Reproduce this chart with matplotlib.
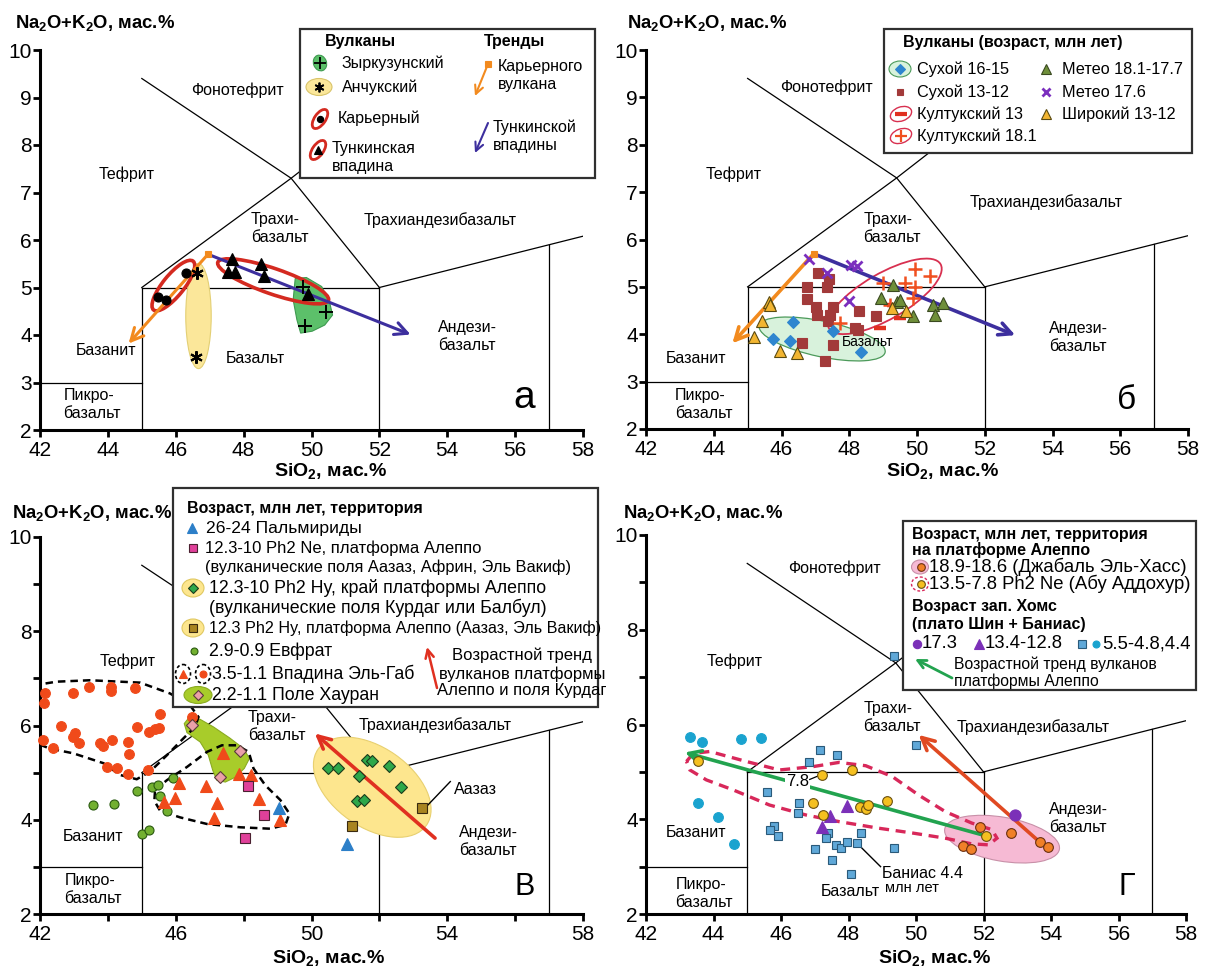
import matplotlib

matplotlib.use("Agg")
import matplotlib.pyplot as plt
from matplotlib.patches import Ellipse, Polygon, Rectangle
from matplotlib.transforms import Affine2D
from matplotlib.ticker import MultipleLocator, FixedLocator

plt.rcParams["font.family"] = ["Liberation Sans", "DejaVu Sans"]
plt.rcParams["mathtext.fontset"] = "custom"
plt.rcParams["mathtext.rm"] = "Liberation Sans"
plt.rcParams["mathtext.bf"] = "Liberation Sans:bold"

W, H = 1205, 969

# TAS field boundaries (SiO2, Na2O+K2O)
TAS_LINES = [
    ([42, 45], [3, 3]),
    ([45, 45], [2, 5]),
    ([45, 52], [5, 5]),
    ([52, 52], [2, 5]),
    ([57, 57], [2, 5.9]),
    ([52, 57, 58], [5, 5.9, 6.08]),
    ([45, 49.4, 53], [5, 7.3, 9.3]),
    ([45, 49.4, 52], [9.4, 7.3, 5]),
]

# ---- panel a ----
A_ZYRK_X = [49.74, 50.42, 49.80]
A_ZYRK_Y = [5.02, 4.49, 4.18]
A_ANCH_X = [46.64, 46.59]
A_ANCH_Y = [5.31, 3.54]
A_KAR_X = [45.49, 45.72, 46.30]
A_KAR_Y = [4.79, 4.74, 5.30]
A_TUNK_X = [47.66, 47.54, 47.74, 48.50, 48.61, 49.91]
A_TUNK_Y = [5.61, 5.33, 5.33, 5.49, 5.24, 4.86]
A_ZYRK_BLOB = [(49.52, 5.19), (49.85, 5.21), (50.30, 5.02), (50.53, 4.70), (50.62, 4.42),
               (50.39, 4.21), (50.02, 4.08), (49.68, 4.04), (49.57, 4.32), (49.46, 4.74)]
TREND_START = (46.95, 5.70)
A_ORANGE_END = (44.61, 3.82)
A_BLUE_END = (52.92, 4.01)

# ---- panel b ----
B_SUH1_X = [46.33, 45.75, 46.25, 47.53, 48.35]
B_SUH1_Y = [4.25, 3.89, 3.86, 4.07, 3.63]
B_SUH2_X = [47.09, 47.41, 46.76, 47.33, 46.76, 47.02, 47.53, 47.06, 47.43, 47.38, 48.30,
            48.79, 48.17, 48.27, 46.60, 47.53, 47.28]
B_SUH2_Y = [5.30, 5.16, 5.00, 5.00, 4.74, 4.58, 4.57, 4.41, 4.41, 4.27, 4.49,
            4.39, 4.13, 4.09, 3.81, 3.77, 3.44]
B_KUL13_X = [49.50, 48.90, 49.30]
B_KUL13_Y = [4.35, 4.13, 4.62]
B_KUL18_X = [49.95, 50.38, 49.00, 49.65, 49.94, 49.89, 49.20, 47.74]
B_KUL18_Y = [5.37, 5.23, 5.09, 5.08, 5.00, 4.76, 4.62, 4.24]
B_MET1_X = [49.28, 48.94, 49.40, 49.50, 49.89, 50.48, 50.78, 50.53]
B_MET1_Y = [5.04, 4.77, 4.69, 4.72, 4.39, 4.62, 4.67, 4.41]
B_MET2_X = [46.82, 47.33, 48.05, 48.22, 48.00]
B_MET2_Y = [5.59, 5.30, 5.46, 5.45, 4.71]
B_SHIR_X = [45.63, 45.66, 45.41, 45.18, 45.97, 46.45, 49.25, 49.69]
B_SHIR_Y = [4.68, 4.62, 4.29, 3.95, 3.65, 3.60, 4.55, 4.50]
B_ORANGE_END = (44.55, 3.81)
B_BLUE_END = (52.90, 3.98)

# ---- panel v ----
V_PALM_X = [49.03, 51.06]
V_PALM_Y = [4.24, 3.48]
V_NE_X = [48.14, 48.61, 48.05]
V_NE_Y = [4.71, 4.10, 3.62]
V_KURD_X = [50.49, 50.77, 51.65, 51.79, 51.39, 52.29, 52.63, 51.34, 51.56]
V_KURD_Y = [5.09, 5.09, 5.27, 5.25, 4.93, 5.14, 4.70, 4.39, 4.41]
V_HY_X = [51.20, 53.27]
V_HY_Y = [3.86, 4.24]
V_EVF_X = [43.55, 44.18, 44.85, 45.29, 45.49, 45.91, 45.54, 45.74, 45.00, 45.22]
V_EVF_Y = [4.31, 4.33, 4.61, 4.69, 4.73, 4.88, 4.50, 4.19, 3.69, 3.79]
V_GABT_X = [47.39, 47.85, 48.22, 46.11, 46.89, 45.98, 45.66, 47.21, 48.45, 47.14, 49.08]
V_GABT_Y = [5.42, 4.97, 4.95, 4.77, 4.71, 4.47, 4.38, 4.36, 4.45, 4.04, 3.99]
V_GABC_X = [42.15, 42.12, 42.98, 43.45, 44.09, 44.09, 44.80, 45.54, 46.47, 42.61, 43.03,
            42.98, 43.16, 43.77, 43.85, 44.11, 44.58, 44.85, 45.22, 45.39, 45.52, 44.63,
            42.08, 42.37, 43.97, 44.28, 44.60, 45.18]
V_GABC_Y = [6.70, 6.47, 6.68, 6.81, 6.82, 6.74, 6.79, 6.24, 6.17, 5.99, 5.85,
            5.75, 5.63, 5.63, 5.57, 5.69, 5.64, 5.96, 5.87, 5.92, 5.94, 5.39,
            5.69, 5.53, 5.11, 5.09, 4.97, 5.05]
V_HAUR_X = [46.47, 47.90, 47.31]
V_HAUR_Y = [6.01, 5.46, 4.91]
V_GABC_OUTLINE = [(41.8, 6.85), (42.49, 6.93), (43.47, 6.96), (44.95, 6.91), (45.83, 6.68),
                  (46.42, 6.43), (46.67, 6.18), (46.57, 5.97), (46.23, 5.73), (45.74, 5.37),
                  (45.24, 5.02), (44.85, 4.86), (44.36, 4.95), (43.87, 5.20), (42.98, 5.41),
                  (42.29, 5.51), (41.8, 5.65)]
V_GABT_OUTLINE = [(45.39, 4.63), (45.74, 4.84), (46.33, 5.12), (46.92, 5.44), (47.36, 5.58),
                  (47.80, 5.58), (48.15, 5.44), (48.29, 5.09), (48.64, 4.73), (49.08, 4.42),
                  (49.35, 4.13), (49.23, 3.89), (48.78, 3.81), (47.90, 3.84), (46.92, 3.91),
                  (46.13, 4.05), (45.54, 4.19), (45.37, 4.40)]
V_HAUR_BLOB = [(46.25, 6.04), (46.37, 6.15), (46.72, 6.13), (47.11, 5.97), (47.60, 5.73),
               (48.00, 5.51), (48.17, 5.30), (48.02, 5.09), (47.75, 4.90), (47.46, 4.80),
               (47.21, 4.84), (47.09, 5.05), (46.96, 5.37), (46.72, 5.65), (46.33, 5.85)]
V_TREND = ((53.64, 3.61), (50.10, 5.83))

# ---- panel g ----
G_JAB_X = [51.90, 51.38, 51.64, 52.82, 53.68, 53.90]
G_JAB_Y = [3.83, 3.44, 3.37, 3.72, 3.51, 3.41]
G_ABU_X = [43.54, 47.21, 48.10, 46.94, 47.23, 48.33, 48.51, 48.59, 49.14, 52.07]
G_ABU_Y = [5.22, 4.94, 5.04, 4.35, 4.09, 4.26, 4.22, 4.30, 4.39, 3.65]
G_P17_X = [52.94]
G_P17_Y = [4.09]
G_P13_X = [47.97, 47.45, 47.21]
G_P13_Y = [4.27, 4.06, 3.83]
G_SQ_X = [49.34, 49.99, 47.15, 47.67, 46.82, 45.58, 46.54, 46.49, 45.78, 45.66, 45.90,
          47.40, 47.33, 48.37, 47.01, 47.63, 47.79, 47.95, 48.26, 47.51, 48.07, 49.35]
G_SQ_Y = [7.45, 5.57, 5.46, 5.36, 5.20, 4.58, 4.35, 4.13, 3.85, 3.78, 3.64,
          3.72, 3.60, 3.72, 3.37, 3.46, 3.39, 3.53, 3.50, 3.14, 2.85, 3.39]
G_CIR_X = [43.30, 43.67, 44.82, 45.41, 43.54, 44.13, 44.60]
G_CIR_Y = [5.74, 5.64, 5.69, 5.71, 4.35, 4.04, 3.48]
G_ABU_OUTLINE = [(43.20, 5.22), (43.40, 5.39), (43.89, 5.43), (44.97, 5.22), (45.95, 5.04),
                 (46.94, 5.11), (47.72, 5.20), (48.51, 5.13), (49.30, 4.90), (50.08, 4.51),
                 (50.87, 4.16), (51.65, 3.92), (52.25, 3.78), (52.40, 3.60), (52.15, 3.46),
                 (51.65, 3.48), (50.87, 3.60), (49.89, 3.71), (48.90, 3.81), (47.72, 3.95),
                 (46.74, 4.09), (45.66, 4.30), (44.58, 4.62), (43.79, 4.83), (43.30, 5.04)]
G_GREEN_TREND = ((52.07, 3.65), (43.15, 5.41))
G_RED_TREND = ((53.68, 3.51), (50.08, 5.78))

RED = "#d42a20"
ORANGE = "#f28a1e"
BLUE = "#3d2f9e"

fig = plt.figure(figsize=(W / 100, H / 100), dpi=100)


def make_axes(x0, x1, y0, y1):
    ax = fig.add_axes([x0 / W, 1 - y1 / H, (x1 - x0) / W, (y1 - y0) / H])
    ax.set_xlim(42, 58)
    ax.set_ylim(2, 10)
    for s in ("top", "right"):
        ax.spines[s].set_visible(False)
    for s in ("left", "bottom"):
        ax.spines[s].set_linewidth(2.2)
    ax.tick_params(which="both", direction="out", length=5, width=2, labelsize=15)
    ax.tick_params(axis="y", pad=1)
    ax.tick_params(axis="x", pad=3)
    for xs, ys in TAS_LINES:
        ax.plot(xs, ys, color="black", lw=0.9, zorder=1)
    return ax


def oval(ax, cx, cy, w, h, ang, **kw):
    bb = ax.get_position()
    k = (bb.height * H / 8) / (bb.width * W / 16)
    e = Ellipse((0, 0), w, h, angle=ang, **kw)
    e.set_transform(Affine2D().scale(1, 1 / k).translate(cx, cy) + ax.transData)
    ax.add_patch(e)


def arrow(ax, tail, head, color, lw=2.2, hl=0.9, hw=0.45):
    ax.annotate("", xy=head, xytext=tail,
                arrowprops=dict(arrowstyle=f"->,head_length={hl},head_width={hw}",
                                color=color, lw=lw, shrinkA=0, shrinkB=0), zorder=4)


def pts(ax, xs, ys, marker, fc, ec=None, ms=7, mew=0.8, z=5):
    ax.plot(xs, ys, ls="none", marker=marker, ms=ms, mfc=fc, mec=ec or fc,
            mew=mew, zorder=z, clip_on=False)


def field(ax, x, y, s, size=11.5, **kw):
    ax.text(x, y, s, fontsize=size, ha="center", va="center", multialignment="left",
            linespacing=1.25, zorder=3, **kw)


# ================= panel a =================
ax = make_axes(40, 583, 50, 430)
ax.xaxis.set_major_locator(MultipleLocator(2))
ax.yaxis.set_major_locator(MultipleLocator(1))
field(ax, 47.83, 9.16, "Фонотефрит")
field(ax, 44.56, 7.39, "Тефрит")
field(ax, 49.06, 6.25, "Трахи-\nбазальт")
field(ax, 53.8, 6.42, "Трахиандезибазальт")
field(ax, 54.6, 3.96, "Андези-\nбазальт")
field(ax, 43.94, 3.67, "Базанит")
field(ax, 48.33, 3.51, "Базальт")
field(ax, 43.54, 2.53, "Пикро-\nбазальт")
field(ax, 56.28, 2.68, "а", size=28)
ax.add_patch(Polygon(A_ZYRK_BLOB, closed=True, fc="#5cc06a", ec="#3e9a50", lw=0.8, zorder=2))
oval(ax, 46.67, 4.40, 0.75, 3.1, 0, fc="#fbe79a", ec="#e3cf74", lw=0.8, zorder=2)
oval(ax, 45.93, 5.04, 1.85, 0.62, 51, fc="none", ec=RED, lw=2.6, zorder=3)
oval(ax, 48.87, 5.13, 3.45, 0.75, -19, fc="none", ec=RED, lw=2.6, zorder=3)
arrow(ax, TREND_START, A_ORANGE_END, ORANGE)
arrow(ax, TREND_START, A_BLUE_END, BLUE)
pts(ax, [TREND_START[0]], [TREND_START[1]], "s", ORANGE, ms=5, z=6)
pts(ax, A_ZYRK_X, A_ZYRK_Y, "+", "black", ms=10, mew=1.4)
pts(ax, A_ANCH_X, A_ANCH_Y, (6, 2, 0), "black", ms=9, mew=1.5)
pts(ax, A_KAR_X, A_KAR_Y, "o", "black", ms=6.5)
pts(ax, A_TUNK_X, A_TUNK_Y, "^", "black", ms=8.5)

# ================= panel b =================
ax = make_axes(646, 1188, 50, 429)
ax.xaxis.set_major_locator(MultipleLocator(2))
ax.yaxis.set_major_locator(MultipleLocator(1))
field(ax, 47.33, 9.21, "Фонотефрит")
field(ax, 44.59, 7.38, "Тефрит")
field(ax, 49.26, 6.24, "Трахи-\nбазальт")
field(ax, 53.8, 6.78, "Трахиандезибазальт")
field(ax, 54.77, 3.93, "Андези-\nбазальт")
field(ax, 43.48, 3.49, "Базанит")
field(ax, 43.7, 2.51, "Пикро-\nбазальт")
field(ax, 56.2, 2.6, "б", size=24)
oval(ax, 47.2, 3.9, 3.8, 1.05, -12, fc="#d8f2dc", ec="#4c9a5a", lw=0.9, zorder=2)
ax.text(48.55, 3.83, "Базальт", fontsize=10, ha="center", va="center", zorder=3)
oval(ax, 49.05, 4.8, 3.8, 1.35, 30, fc="none", ec="#d83050", lw=1.3, zorder=3)
arrow(ax, TREND_START, B_ORANGE_END, ORANGE, lw=2.6)
arrow(ax, TREND_START, B_BLUE_END, BLUE, lw=2.6)
pts(ax, [TREND_START[0]], [TREND_START[1]], "s", ORANGE, ms=5, z=6)
pts(ax, B_SUH2_X, B_SUH2_Y, "s", "#a23a3a", ms=6.5)
pts(ax, B_SUH1_X, B_SUH1_Y, "D", "#2f86cf", ms=6.5)
pts(ax, B_KUL13_X, B_KUL13_Y, "_", "#e03020", ms=9, mew=3.2)
pts(ax, B_KUL18_X, B_KUL18_Y, "+", "#f05020", ms=10, mew=1.8)
pts(ax, B_MET1_X, B_MET1_Y, "^", "#6f8f3a", "#3a4a20", ms=9)
pts(ax, B_MET2_X, B_MET2_Y, "x", "#7b2fbe", ms=7, mew=2)
pts(ax, B_SHIR_X, B_SHIR_Y, "^", "#f2b531", "#5a4a10", ms=9)

# ================= panel v =================
ax = make_axes(40, 583, 537, 914)
ax.xaxis.set_major_locator(FixedLocator([42, 46, 50, 54, 58]))
ax.xaxis.set_minor_locator(FixedLocator([44, 48, 52, 56]))
ax.yaxis.set_major_locator(MultipleLocator(2))
ax.yaxis.set_minor_locator(MultipleLocator(1))
field(ax, 44.59, 7.37, "Тефрит")
field(ax, 48.97, 5.97, "Трахи-\nбазальт")
field(ax, 53.64, 6.01, "Трахиандезибазальт")
field(ax, 55.22, 3.54, "Андези-\nбазальт")
field(ax, 43.57, 3.64, "Базанит")
field(ax, 43.57, 2.51, "Пикро-\nбазальт")
field(ax, 56.29, 2.57, "В", size=22)
ax.text(54.2, 4.65, "Аазаз", fontsize=11.5, ha="left", va="center", zorder=3)
ax.plot([54.09, 53.36], [4.81, 4.26], color="black", lw=1, zorder=3)
oval(ax, 51.79, 4.69, 3.9, 2.35, -35, fc="#fde68e", ec="#e8d070", lw=0.8, zorder=2)
ax.add_patch(Polygon(V_HAUR_BLOB, closed=True, fc="#a8cc2a", ec="#8aab20", lw=0.8, zorder=2))
ax.add_patch(Polygon(V_GABC_OUTLINE, closed=False, fill=False, ec="black", lw=1.8,
                     ls=(0, (3, 2)), zorder=3))
ax.add_patch(Polygon(V_GABT_OUTLINE, closed=True, fill=False, ec="black", lw=1.8,
                     ls=(0, (3, 2)), zorder=3))
arrow(ax, V_TREND[0], V_TREND[1], "#e03020", lw=2.6)
pts(ax, V_GABC_X, V_GABC_Y, "o", "#f04a1a", ms=7)
pts(ax, V_EVF_X, V_EVF_Y, "o", "#72b030", "#2a5a10", ms=6.5)
pts(ax, V_GABT_X, V_GABT_Y, "^", "#f04a1a", ms=9)
pts(ax, V_NE_X, V_NE_Y, "s", "#e0409a", "#4a2030", ms=7)
pts(ax, V_PALM_X, V_PALM_Y, "^", "#2c7fc8", ms=9)
pts(ax, V_KURD_X, V_KURD_Y, "D", "#2ea84a", "#1a3a1a", ms=6.5)
pts(ax, V_HY_X, V_HY_Y, "s", "#a88420", "#3a2a10", ms=7)
pts(ax, V_HAUR_X, V_HAUR_Y, "D", "#eaa0a8", "#5a3a3a", ms=6.5)

# ================= panel g =================
ax = make_axes(646, 1186, 535, 914)
ax.xaxis.set_major_locator(MultipleLocator(2))
ax.yaxis.set_major_locator(MultipleLocator(2))
ax.yaxis.set_minor_locator(MultipleLocator(1))
field(ax, 47.59, 9.30, "Фонотефрит")
field(ax, 44.63, 7.34, "Тефрит")
field(ax, 49.30, 6.15, "Трахи-\nбазальт")
field(ax, 53.46, 5.94, "Трахиандезибазальт")
field(ax, 54.82, 4.02, "Андези-\nбазальт")
field(ax, 43.49, 3.71, "Базанит")
field(ax, 48.05, 2.47, "Базальт")
field(ax, 43.72, 2.44, "Пикро-\nбазальт")
field(ax, 56.25, 2.57, "Г", size=22)
oval(ax, 52.55, 3.58, 3.45, 1.3, -10, fc="#f6bad4", ec="#c890a8", lw=0.8, zorder=2)
ax.add_patch(Polygon(G_ABU_OUTLINE, closed=True, fill=False, ec="#d8285a", lw=2.4,
                     ls=(0, (3, 2)), zorder=3))
arrow(ax, G_GREEN_TREND[0], G_GREEN_TREND[1], "#22a34f", lw=2.6)
arrow(ax, G_RED_TREND[0], G_RED_TREND[1], "#e04a22", lw=2.6)
ax.text(46.49, 4.80, "7.8", fontsize=12, ha="center", va="center", zorder=4,
        bbox=dict(fc="white", ec="none", pad=1))
ax.plot([46.85, 47.12], [4.84, 4.92], color="black", lw=0.9, zorder=4)
ax.plot([48.30, 48.95], [3.46, 3.00], color="black", lw=1, zorder=4)
ax.text(49.0, 2.85, "Баниас 4.4", fontsize=11.5, ha="left", va="center", zorder=4)
ax.text(49.89, 2.55, "млн лет", fontsize=10.5, ha="center", va="center", zorder=4)
pts(ax, G_SQ_X, G_SQ_Y, "s", "#5fa8d8", "#2a5a7a", ms=6)
pts(ax, G_CIR_X, G_CIR_Y, "o", "#1aa3cf", ms=7)
pts(ax, G_P13_X, G_P13_Y, "^", "#7b30b8", ms=9)
pts(ax, G_P17_X, G_P17_Y, "o", "#7b30b8", ms=8)
pts(ax, G_JAB_X, G_JAB_Y, "o", "#f08028", "#6a3010", ms=7)
pts(ax, G_ABU_X, G_ABU_Y, "o", "#f5c020", "#6a5010", ms=7)

# ================= overlay: axis titles and legends =================
ov = fig.add_axes([0, 0, 1, 1], zorder=10)
ov.set_xlim(0, W)
ov.set_ylim(H, 0)
ov.axis("off")

YLAB = r"Na$_\mathbf{2}$O+K$_\mathbf{2}$O, мас.%"
XLAB = r"SiO$_\mathbf{2}$, мас.%"
for x, y in [(15, 23), (627, 23), (12, 513), (623, 513)]:
    ov.text(x, y, YLAB, fontsize=13.3, fontweight="bold", ha="left", va="center", zorder=1)
for x, y in [(274, 472), (886, 472), (272, 959), (878, 959)]:
    ov.text(x, y, XLAB, fontsize=14, fontweight="bold", ha="left", va="center", zorder=1)


def box(x0, y0, x1, y1):
    ov.add_patch(Rectangle((x0, y0), x1 - x0, y1 - y0, fc="white", ec="#303030",
                           lw=1.6, zorder=5))


def t(x, y, s, size=11.5, bold=False, ha="left"):
    ov.text(x, y, s, fontsize=size, fontweight="bold" if bold else "normal",
            ha=ha, va="center", zorder=8)


def sym(x, y, marker, fc, ec=None, ms=6, mew=0.8):
    ov.plot([x], [y], ls="none", marker=marker, ms=ms, mfc=fc, mec=ec or fc, mew=mew,
            zorder=9)


def pov(x, y, w, h, ang=0, **kw):
    ov.add_patch(Ellipse((x, y), w, h, angle=ang, zorder=7, **kw))


def parrow(tail, head, color, lw=1.5):
    ov.annotate("", xy=head, xytext=tail,
                arrowprops=dict(arrowstyle="->,head_length=0.6,head_width=0.3", color=color,
                                lw=lw, shrinkA=0, shrinkB=0), zorder=9)


# legend a
box(300, 29, 595, 178)
t(325, 41, "Вулканы", bold=True)
t(484, 41, "Тренды", bold=True)
pov(320, 63, 13, 16, -20, fc="#5cc06a", ec="#3e9a50", lw=0.8)
sym(320, 63, "+", "black", ms=8, mew=1.3)
t(342, 63, "Зыркузунский")
pov(319, 87, 26, 17, 0, fc="#fbe79a", ec="#d9c46a", lw=0.8)
sym(319, 87, (6, 2, 0), "black", ms=7, mew=1.3)
t(342, 87, "Анчукский")
pov(320, 119, 22, 11, -55, fc="none", ec=RED, lw=2)
sym(320, 119, "o", "black", ms=4.5)
t(338, 118, "Карьерный")
pov(318, 150, 22, 11, -55, fc="none", ec=RED, lw=2)
sym(318, 150, "^", "black", ms=5.5)
t(332, 148, "Тункинская")
t(332, 166, "впадина")
parrow((488, 64), (475, 96), ORANGE)
sym(488, 64, "s", ORANGE, ms=4)
t(498, 66, "Карьерного")
t(498, 84, "вулкана")
parrow((488, 123), (475, 153), BLUE)
t(493, 127, "Тункинской")
t(493, 145, "впадины")

# legend b
box(884, 29, 1192, 153)
t(903, 42, "Вулканы (возраст, млн лет)", bold=True)
pov(900, 69, 22, 16, 0, fc="#d8f2dc", ec="#4c9a5a", lw=0.8)
sym(900, 69, "D", "#2f86cf", ms=5.5)
t(917, 69, "Сухой 16-15", 11.7)
sym(900, 92, "s", "#a23a3a", ms=5)
t(917, 92, "Сухой 13-12", 11.7)
pov(901, 114, 22, 14, -20, fc="white", ec="#d83050", lw=1)
sym(901, 114, "_", "#e03020", ms=8, mew=3)
t(917, 114, "Култукский 13", 11.7)
pov(901, 136, 22, 14, -20, fc="white", ec="#d83050", lw=1)
sym(901, 136, "+", "#f05020", ms=9, mew=1.6)
t(917, 136, "Култукский 18.1", 11.7)
sym(1046, 69, "^", "#6f8f3a", "#3a4a20", ms=7)
t(1062, 69, "Метео 18.1-17.7", 11.7)
sym(1046, 92, "x", "#7b2fbe", ms=6, mew=2)
t(1062, 92, "Метео 17.6", 11.7)
sym(1046, 114, "^", "#f2b531", "#5a4a10", ms=7)
t(1062, 114, "Широкий 13-12", 11.7)

# legend v
box(173, 488, 598, 707)
t(187, 508, "Возраст, млн лет, территория", bold=True)
sym(192, 528, "^", "#2c7fc8", ms=7)
t(206, 528, "26-24 Пальмириды", 12.6)
sym(193, 548, "s", "#e0409a", "#4a2030", ms=6)
t(205, 548, "12.3-10 Ph2 Ne, платформа Алеппо", 12)
t(205, 567, "(вулканические поля Аазаз, Африн, Эль Вакиф)", 11.8)
pov(193, 588, 22, 18, 0, fc="#fde68e", ec="#e0c860", lw=0.8)
sym(193, 588, "D", "#2ea84a", "#1a3a1a", ms=5.5)
t(209, 588, "12.3-10 Ph2 Hy, край платформы Алеппо", 12.8)
t(209, 608, "(вулканические поля Курдаг или Балбул)", 12.8)
pov(193, 628, 22, 18, 0, fc="#fde68e", ec="#e0c860", lw=0.8)
sym(193, 628, "s", "#a88420", "#3a2a10", ms=6)
t(209, 628, "12.3 Ph2 Hy, платформа Алеппо (Аазаз, Эль Вакиф)", 11.6)
sym(194, 651, "o", "#72b030", "#2a5a10", ms=5)
t(209, 651, "2.9-0.9 Евфрат", 12.8)
pov(183, 674, 15, 19, 0, fc="white", ec="black", lw=1.2, ls=(0, (2, 1.5)))
sym(183, 674, "^", "#f04a1a", ms=6)
pov(203, 674, 15, 19, 0, fc="white", ec="black", lw=1.2, ls=(0, (2, 1.5)))
sym(203, 674, "o", "#f04a1a", ms=5)
t(212, 674, "3.5-1.1 Впадина Эль-Габ", 12.8)
pov(198, 695, 28, 17, 0, fc="#a8cc2a", ec="#8aab20", lw=0.8)
sym(198, 695, "D", "#eaa0a8", "#5a3a3a", ms=5.5)
t(212, 695, "2.2-1.1 Поле Хауран", 12.8)
parrow((437, 688), (427, 647), "#e03020", lw=1.8)
t(522, 655, "Возрастной тренд", 12, ha="center")
t(522, 674, "вулканов платформы", 12, ha="center")
t(522, 691, "Алеппо и поля Курдаг", 12, ha="center")

# legend g
box(903, 521, 1196, 690)
t(912, 534, "Возраст, млн лет, территория", bold=True)
t(912, 550, "на платформе Алеппо", bold=True)
pov(920, 567, 17, 14, 0, fc="#f6bad4", ec="#c890a8", lw=0.8)
sym(921, 567, "o", "#f08028", "#6a3010", ms=5.5)
t(929, 567, "18.9-18.6 (Джабаль Эль-Хасс)", 13.3)
pov(920, 584, 17, 14, 0, fc="white", ec="#d8285a", lw=1, ls=(0, (2, 1.5)))
sym(921, 584, "o", "#f5c020", "#6a5010", ms=5.5)
t(929, 584, "13.5-7.8 Ph2 Ne (Абу Аддохур)", 13.3)
t(912, 606, "Возраст зап. Хомс", bold=True)
t(912, 624, "(плато Шин + Баниас)", bold=True)
sym(917, 644, "o", "#7b30b8", ms=6)
t(922, 644, "17.3", 13.3)
sym(979, 644, "^", "#7b30b8", ms=7)
t(985, 644, "13.4-12.8", 13.3)
sym(1082, 644, "s", "#5fa8d8", "#2a5a7a", ms=5.5)
sym(1096, 644, "o", "#1aa3cf", ms=5)
t(1102, 644, "5.5-4.8,4.4", 13.3)
parrow((952, 678), (915, 659), "#22a34f", lw=2)
t(954, 664, "Возрастной тренд вулканов", 11.3)
t(954, 681, "платформы Алеппо", 11.3)

fig.savefig("out.png", dpi=100)
